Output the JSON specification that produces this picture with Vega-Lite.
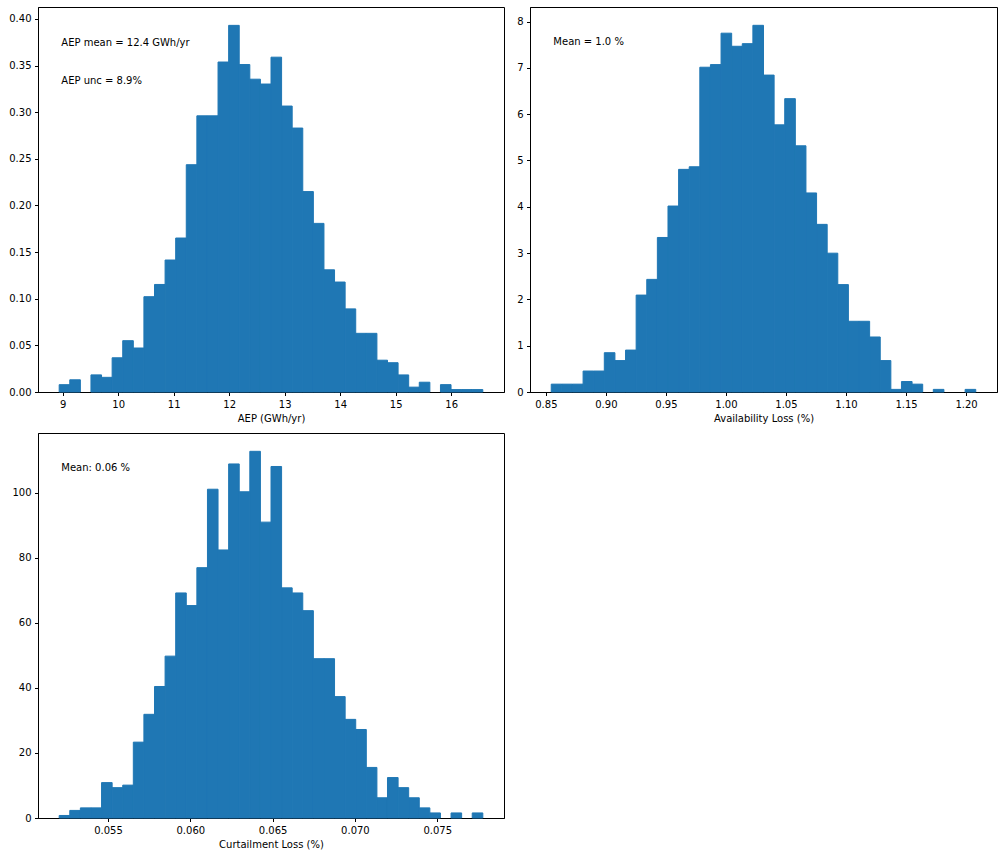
{
  "$schema": "https://vega.github.io/schema/vega-lite/v6.json",
  "padding": {"left": 7, "top": 6, "right": 0, "bottom": 0},
  "background": "white",
  "datasets": {
    "aep": [
      {"start": 8.937, "end": 9.1278, "density": 0.00786},
      {"start": 9.1278, "end": 9.3186, "density": 0.0131},
      {"start": 9.5094, "end": 9.7002, "density": 0.01834},
      {"start": 9.7002, "end": 9.891, "density": 0.01572},
      {"start": 9.891, "end": 10.0818, "density": 0.03669},
      {"start": 10.0818, "end": 10.2726, "density": 0.05503},
      {"start": 10.2726, "end": 10.4634, "density": 0.04717},
      {"start": 10.4634, "end": 10.6542, "density": 0.1022},
      {"start": 10.6542, "end": 10.845, "density": 0.1153},
      {"start": 10.845, "end": 11.0358, "density": 0.1415},
      {"start": 11.0358, "end": 11.2266, "density": 0.1651},
      {"start": 11.2266, "end": 11.4174, "density": 0.2437},
      {"start": 11.4174, "end": 11.6082, "density": 0.2961},
      {"start": 11.6082, "end": 11.799, "density": 0.2961},
      {"start": 11.799, "end": 11.9898, "density": 0.3538},
      {"start": 11.9898, "end": 12.1806, "density": 0.3931},
      {"start": 12.1806, "end": 12.3714, "density": 0.3511},
      {"start": 12.3714, "end": 12.5622, "density": 0.3354},
      {"start": 12.5622, "end": 12.753, "density": 0.3302},
      {"start": 12.753, "end": 12.9438, "density": 0.359},
      {"start": 12.9438, "end": 13.1346, "density": 0.3066},
      {"start": 13.1346, "end": 13.3254, "density": 0.283},
      {"start": 13.3254, "end": 13.5162, "density": 0.2149},
      {"start": 13.5162, "end": 13.707, "density": 0.1808},
      {"start": 13.707, "end": 13.8978, "density": 0.131},
      {"start": 13.8978, "end": 14.0886, "density": 0.1179},
      {"start": 14.0886, "end": 14.2794, "density": 0.0891},
      {"start": 14.2794, "end": 14.4702, "density": 0.0629},
      {"start": 14.4702, "end": 14.661, "density": 0.0629},
      {"start": 14.661, "end": 14.8518, "density": 0.0341},
      {"start": 14.8518, "end": 15.0426, "density": 0.0314},
      {"start": 15.0426, "end": 15.2334, "density": 0.0183},
      {"start": 15.2334, "end": 15.4242, "density": 0.0052},
      {"start": 15.4242, "end": 15.615, "density": 0.0105},
      {"start": 15.8058, "end": 15.9966, "density": 0.0079},
      {"start": 15.9966, "end": 16.1874, "density": 0.0026},
      {"start": 16.1874, "end": 16.3782, "density": 0.0026},
      {"start": 16.3782, "end": 16.569, "density": 0.0026}
    ],
    "avail": [
      {"start": 0.8545, "end": 0.86334, "density": 0.1697},
      {"start": 0.86334, "end": 0.87218, "density": 0.1697},
      {"start": 0.87218, "end": 0.88102, "density": 0.1697},
      {"start": 0.88102, "end": 0.88986, "density": 0.4525},
      {"start": 0.88986, "end": 0.8987, "density": 0.4525},
      {"start": 0.8987, "end": 0.90754, "density": 0.8484},
      {"start": 0.90754, "end": 0.91638, "density": 0.6787},
      {"start": 0.91638, "end": 0.92522, "density": 0.905},
      {"start": 0.92522, "end": 0.93406, "density": 2.0927},
      {"start": 0.93406, "end": 0.9429, "density": 2.4321},
      {"start": 0.9429, "end": 0.95174, "density": 3.337},
      {"start": 0.95174, "end": 0.96058, "density": 4.0158},
      {"start": 0.96058, "end": 0.96942, "density": 4.8076},
      {"start": 0.96942, "end": 0.97826, "density": 4.8642},
      {"start": 0.97826, "end": 0.9871, "density": 7.0134},
      {"start": 0.9871, "end": 0.99594, "density": 7.07},
      {"start": 0.99594, "end": 1.00478, "density": 7.7487},
      {"start": 1.00478, "end": 1.01362, "density": 7.4659},
      {"start": 1.01362, "end": 1.02246, "density": 7.5225},
      {"start": 1.02246, "end": 1.0313, "density": 7.9184},
      {"start": 1.0313, "end": 1.04014, "density": 6.8437},
      {"start": 1.04014, "end": 1.04898, "density": 5.7691},
      {"start": 1.04898, "end": 1.05782, "density": 6.3348},
      {"start": 1.05782, "end": 1.06666, "density": 5.3167},
      {"start": 1.06666, "end": 1.0755, "density": 4.2986},
      {"start": 1.0755, "end": 1.08434, "density": 3.6199},
      {"start": 1.08434, "end": 1.09318, "density": 2.9977},
      {"start": 1.09318, "end": 1.10202, "density": 2.319},
      {"start": 1.10202, "end": 1.11086, "density": 1.5271},
      {"start": 1.11086, "end": 1.1197, "density": 1.5271},
      {"start": 1.1197, "end": 1.12854, "density": 1.1878},
      {"start": 1.12854, "end": 1.13738, "density": 0.6787},
      {"start": 1.13738, "end": 1.14622, "density": 0.0566},
      {"start": 1.14622, "end": 1.15506, "density": 0.2262},
      {"start": 1.15506, "end": 1.1639, "density": 0.1697},
      {"start": 1.17274, "end": 1.18158, "density": 0.0566},
      {"start": 1.19926, "end": 1.2081, "density": 0.0566}
    ],
    "curt": [
      {"start": 0.052034, "end": 0.052677, "density": 0.777},
      {"start": 0.052677, "end": 0.053321, "density": 2.331},
      {"start": 0.053321, "end": 0.053964, "density": 3.108},
      {"start": 0.053964, "end": 0.054608, "density": 3.108},
      {"start": 0.054608, "end": 0.055251, "density": 10.88},
      {"start": 0.055251, "end": 0.055895, "density": 9.325},
      {"start": 0.055895, "end": 0.056538, "density": 10.1},
      {"start": 0.056538, "end": 0.057181, "density": 23.31},
      {"start": 0.057181, "end": 0.057825, "density": 31.86},
      {"start": 0.057825, "end": 0.058468, "density": 40.41},
      {"start": 0.058468, "end": 0.059112, "density": 49.74},
      {"start": 0.059112, "end": 0.059755, "density": 69.16},
      {"start": 0.059755, "end": 0.060399, "density": 65.28},
      {"start": 0.060399, "end": 0.061042, "density": 76.93},
      {"start": 0.061042, "end": 0.061685, "density": 101.03},
      {"start": 0.061685, "end": 0.062329, "density": 82.37},
      {"start": 0.062329, "end": 0.062972, "density": 108.8},
      {"start": 0.062972, "end": 0.063616, "density": 100.25},
      {"start": 0.063616, "end": 0.064259, "density": 112.68},
      {"start": 0.064259, "end": 0.064903, "density": 90.92},
      {"start": 0.064903, "end": 0.065546, "density": 108.02},
      {"start": 0.065546, "end": 0.066189, "density": 70.72},
      {"start": 0.066189, "end": 0.066833, "density": 69.16},
      {"start": 0.066833, "end": 0.067476, "density": 63.72},
      {"start": 0.067476, "end": 0.06812, "density": 48.96},
      {"start": 0.06812, "end": 0.068763, "density": 48.96},
      {"start": 0.068763, "end": 0.069407, "density": 37.3},
      {"start": 0.069407, "end": 0.07005, "density": 30.31},
      {"start": 0.07005, "end": 0.070693, "density": 27.2},
      {"start": 0.070693, "end": 0.071337, "density": 15.54},
      {"start": 0.071337, "end": 0.07198, "density": 6.217},
      {"start": 0.07198, "end": 0.072624, "density": 12.43},
      {"start": 0.072624, "end": 0.073267, "density": 9.325},
      {"start": 0.073267, "end": 0.073911, "density": 6.217},
      {"start": 0.073911, "end": 0.074554, "density": 3.108},
      {"start": 0.074554, "end": 0.075197, "density": 1.554},
      {"start": 0.075841, "end": 0.076484, "density": 1.554},
      {"start": 0.077128, "end": 0.077771, "density": 1.554}
    ]
  },
  "vconcat": [
    {
      "hconcat": [
        {
          "width": 466,
          "height": 385,
          "layer": [
            {
              "data": {"name": "aep"},
              "mark": {"type": "bar", "color": "#1f77b4", "stroke": "#1f77b4", "strokeWidth": 1},
              "encoding": {
                "x": {"field": "start", "type": "quantitative", "scale": {"domain": [8.5554, 16.9506], "nice": false, "zero": false},
                      "axis": {"values": [9, 10, 11, 12, 13, 14, 15, 16], "format": "d", "title": "AEP (GWh/yr)"}},
                "x2": {"field": "end"},
                "y": {"field": "density", "type": "quantitative", "scale": {"domain": [0, 0.4128], "nice": false},
                      "axis": {"values": [0, 0.05, 0.1, 0.15, 0.2, 0.25, 0.3, 0.35, 0.4], "format": ".2f", "title": null, "minExtent": 30, "maxExtent": 30}},
                "y2": {"datum": 0}
              }
            },
            {
              "data": {"values": [{"t": "AEP mean = 12.4 GWh/yr"}]},
              "mark": {"type": "text", "align": "left", "baseline": "alphabetic", "font": "DejaVu Sans", "fontSize": 10, "color": "#000"},
              "encoding": {"x": {"datum": 8.9752, "type": "quantitative"}, "y": {"datum": 0.3715, "type": "quantitative"}, "text": {"field": "t"}}
            },
            {
              "data": {"values": [{"t": "AEP unc = 8.9%"}]},
              "mark": {"type": "text", "align": "left", "baseline": "alphabetic", "font": "DejaVu Sans", "fontSize": 10, "color": "#000"},
              "encoding": {"x": {"datum": 8.9752, "type": "quantitative"}, "y": {"datum": 0.3302, "type": "quantitative"}, "text": {"field": "t"}}
            }
          ]
        },
        {
          "width": 467,
          "height": 385,
          "layer": [
            {
              "data": {"name": "avail"},
              "mark": {"type": "bar", "color": "#1f77b4", "stroke": "#1f77b4", "strokeWidth": 1},
              "encoding": {
                "x": {"field": "start", "type": "quantitative", "scale": {"domain": [0.8368, 1.2258], "nice": false, "zero": false},
                      "axis": {"values": [0.85, 0.9, 0.95, 1.0, 1.05, 1.1, 1.15, 1.2], "format": ".2f", "title": "Availability Loss (%)"}},
                "x2": {"field": "end"},
                "y": {"field": "density", "type": "quantitative", "scale": {"domain": [0, 8.314], "nice": false},
                      "axis": {"values": [0, 1, 2, 3, 4, 5, 6, 7, 8], "format": "d", "title": null, "minExtent": 14, "maxExtent": 14}},
                "y2": {"datum": 0}
              }
            },
            {
              "data": {"values": [{"t": "Mean = 1.0 %"}]},
              "mark": {"type": "text", "align": "left", "baseline": "alphabetic", "font": "DejaVu Sans", "fontSize": 10, "color": "#000"},
              "encoding": {"x": {"datum": 0.85625, "type": "quantitative"}, "y": {"datum": 7.483, "type": "quantitative"}, "text": {"field": "t"}}
            }
          ]
        }
      ],
      "spacing": 10
    },
    {
      "width": 466,
      "height": 385,
      "layer": [
        {
          "data": {"name": "curt"},
          "mark": {"type": "bar", "color": "#1f77b4", "stroke": "#1f77b4", "strokeWidth": 1},
          "encoding": {
            "x": {"field": "start", "type": "quantitative", "scale": {"domain": [0.050747, 0.079058], "nice": false, "zero": false},
                  "axis": {"values": [0.055, 0.06, 0.065, 0.07, 0.075], "format": ".3f", "title": "Curtailment Loss (%)"}},
            "x2": {"field": "end"},
            "y": {"field": "density", "type": "quantitative", "scale": {"domain": [0, 118.31], "nice": false},
                  "axis": {"values": [0, 20, 40, 60, 80, 100], "format": "d", "title": null, "minExtent": 30, "maxExtent": 30}},
            "y2": {"datum": 0}
          }
        },
        {
          "data": {"values": [{"t": "Mean: 0.06 %"}]},
          "mark": {"type": "text", "align": "left", "baseline": "alphabetic", "font": "DejaVu Sans", "fontSize": 10, "color": "#000"},
          "encoding": {"x": {"datum": 0.052163, "type": "quantitative"}, "y": {"datum": 106.48, "type": "quantitative"}, "text": {"field": "t"}}
        }
      ]
    }
  ],
  "spacing": 8,
  "config": {
    "view": {"stroke": "#000", "strokeWidth": 1},
    "font": "DejaVu Sans",
    "axis": {
      "grid": false,
      "domainColor": "#000",
      "domainWidth": 1,
      "tickColor": "#000",
      "tickWidth": 1,
      "tickSize": 3.5,
      "labelPadding": 3.5,
      "labelFont": "DejaVu Sans",
      "labelFontSize": 10,
      "labelColor": "#000",
      "labelFlush": false,
      "labelOverlap": false,
      "titleFont": "DejaVu Sans",
      "titleFontSize": 10,
      "titleFontWeight": "normal",
      "titleColor": "#000",
      "titlePadding": 4
    }
  }
}
